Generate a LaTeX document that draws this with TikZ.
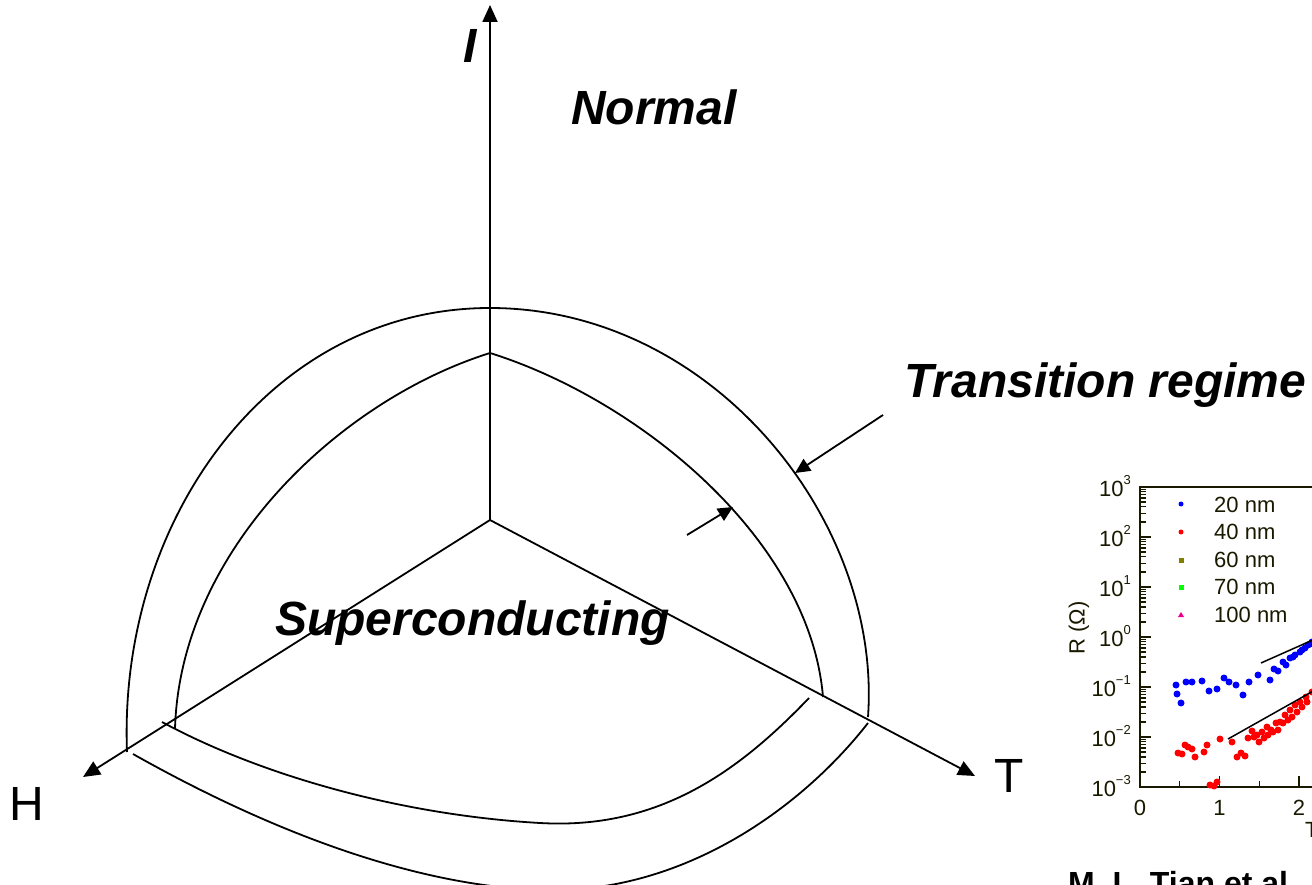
\documentclass[tikz,border=0pt]{standalone}
\usepackage{fontspec}
\setmainfont{Liberation Sans}
\usetikzlibrary{arrows.meta}
\definecolor{axcol}{RGB}{25,25,0}
\definecolor{olivemk}{RGB}{128,128,0}
\newcommand{\regfont}{\fontsize{48}{56}\selectfont\bfseries\itshape}
\newcommand{\axfont}{\fontsize{48}{56}\selectfont}
\newcommand{\insfont}{\fontsize{22}{26}\selectfont}
\newcommand{\dec}[1]{10\raisebox{12pt}{\fontsize{13}{13}\selectfont #1}}

\begin{document}
\begin{tikzpicture}[x=1pt,y=-1pt,
  axis/.style={line width=1.8pt,-{Triangle[length=17pt,width=15pt]}},
  pointer/.style={line width=1.8pt,-{Triangle[length=15pt,width=14pt]}},
  bound/.style={line width=1.8pt},
  frame/.style={line width=1.8pt,axcol},
  tick/.style={line width=1.2pt,axcol},
  tlbl/.style={font=\insfont,text=axcol,inner sep=0pt},
  bdot/.style={fill=blue},
  rdot/.style={fill=red}]
\useasboundingbox (0,0) rectangle (1312,885);
\clip (0,0) rectangle (1312,885);

% phase diagram axes
\coordinate (O) at (490,520);
\coordinate (Itip) at (490,5);
\coordinate (Ttip) at (975,776);
\coordinate (Htip) at (83,777);
\draw[axis] (O) -- (Itip);
\draw[axis] (O) -- (Ttip);
\draw[axis] (O) -- (Htip);

% upper boundaries
\draw[bound] (127,752) .. controls (118,520) and (270,308) .. (490,308)
  .. controls (712,308) and (882,520) .. (868,717);
\draw[bound] (175,729) .. controls (180,550) and (340,400) .. (490,353)
  .. controls (640,400) and (810,540) .. (823,697);
% lower boundaries
\draw[bound] (162,722) .. controls (260,775) and (400,815) .. (540,823)
  .. controls (660,830) and (740,770) .. (809,698);
\draw[bound] (133,754) .. controls (250,820) and (400,885) .. (540,890)
  .. controls (680,895) and (800,810) .. (868,723);

\coordinate (tr1s) at (883,415);
\coordinate (tr1e) at (795,473);
\coordinate (tr2s) at (687,535);
\coordinate (tr2e) at (733,507);
\draw[pointer] (tr1s) -- (tr1e);
\draw[pointer] (tr2s) -- (tr2e);

\node[anchor=base west,inner sep=0pt,font=\regfont] (ilbl) at (463,63) {I};
\node[anchor=base west,inner sep=0pt,font=\regfont] (normal) at (571,125) {Normal};
\node[anchor=base west,inner sep=0pt,font=\regfont] (trans) at (904,397) {Transition regime};
\node[anchor=base west,inner sep=0pt,font=\regfont] (sc) at (275,635) {Superconducting};
\node[anchor=base west,inner sep=0pt,font=\axfont] (tlbl) at (994,792) {T};
\node[anchor=base west,inner sep=0pt,font=\axfont] (hlbl) at (9,820) {H};

% inset R(T)
\draw[frame] (1330,487) -- (1140,487) -- (1140,787) -- (1330,787);
\foreach \d in {0,...,6} {\draw[tick] (1140,{787-50*\d}) -- ++(11,0);}
\foreach \d in {0,...,5} {\foreach \m in {2,...,9} {\draw[tick] (1140,{787-50*(\d+log10(\m))}) -- ++(6,0);}}
\foreach \xx in {1,2} {\draw[tick] ({1140+79.5*\xx},787) -- ++(0,-11);}
\foreach \xx in {0.5,1.5} {\draw[tick] ({1140+79.5*\xx},787) -- ++(0,-6);}
\foreach \e/\d in {3/0,2/1,1/2,0/3,−1/4,−2/5,−3/6} {\node[tlbl,anchor=base east] (ylb\d) at (1131,{496+50*\d}) {\dec{\e}};}
\foreach \xx in {0,1,2} {\node[tlbl,anchor=base] (xlb\xx) at ({1140+79.5*\xx},815) {\xx};}
\node[tlbl,anchor=base west] (tax) at (1305,837) {T};
\node[tlbl,rotate=90] (rax) at (1079,628) {R (Ω)};

\fill[blue] (1181,504) circle (2.5pt);
\fill[red] (1181,532) circle (2.5pt);
\fill[olivemk] (1178.5,557.5) rectangle ++(5,5);
\fill[green] (1178.5,584.5) rectangle ++(5,5);
\fill[magenta] (1178,617) -- (1184,617) -- (1181,612) -- cycle;
\node[tlbl,anchor=base west] (lg20) at (1214,512) {20 nm};
\node[tlbl,anchor=base west] (lg40) at (1214,539.5) {40 nm};
\node[tlbl,anchor=base west] (lg60) at (1214,567) {60 nm};
\node[tlbl,anchor=base west] (lg70) at (1214,594.5) {70 nm};
\node[tlbl,anchor=base west] (lg100) at (1214,622) {100 nm};

\foreach \px/\py in {1176/685,1177/694,1181/703,1186/682,1192/682,1202/681,1209/691,1217/689,1224/678,1229/682,1236/685,1243/695,1249/682,1258/675,1270/680,1274/669,1278/671,1283/662,1286/665,1290/658,1293/657,1295/655,1300/652,1302/650,1305/648,1308/645,1310/644,1312/642}
  {\fill[bdot] (\px,\py) circle (3.5pt);}
\foreach \px/\py in {1178/753,1182/754,1185/745,1188/747,1192/749,1195/757,1204/752,1207/745,1220/739,1232/742,1237/757,1241/753,1245/756,1248/738,1252/731,1254/737,1257/735,1259/742,1262/732,1264/738,1267/727,1268/735,1271/730,1273/732,1276/723,1278/730,1280/722,1283/723,1285/715,1288/720,1290/710,1292/717,1295/705,1297/712,1300/702,1302/707,1306/697,1307/702,1312/692,1210/785,1214/786,1217/782}
  {\fill[rdot] (\px,\py) circle (3.5pt);}
\draw[line width=1.5pt] (1261,663) -- (1315,639);
\draw[line width=1.5pt] (1228,739) -- (1315,690);

\node[anchor=base west,inner sep=0pt,font=\fontsize{32}{38}\selectfont\bfseries] (cite) at (1068,894) {M. L. Tian et al.};
\end{tikzpicture}
\end{document}
